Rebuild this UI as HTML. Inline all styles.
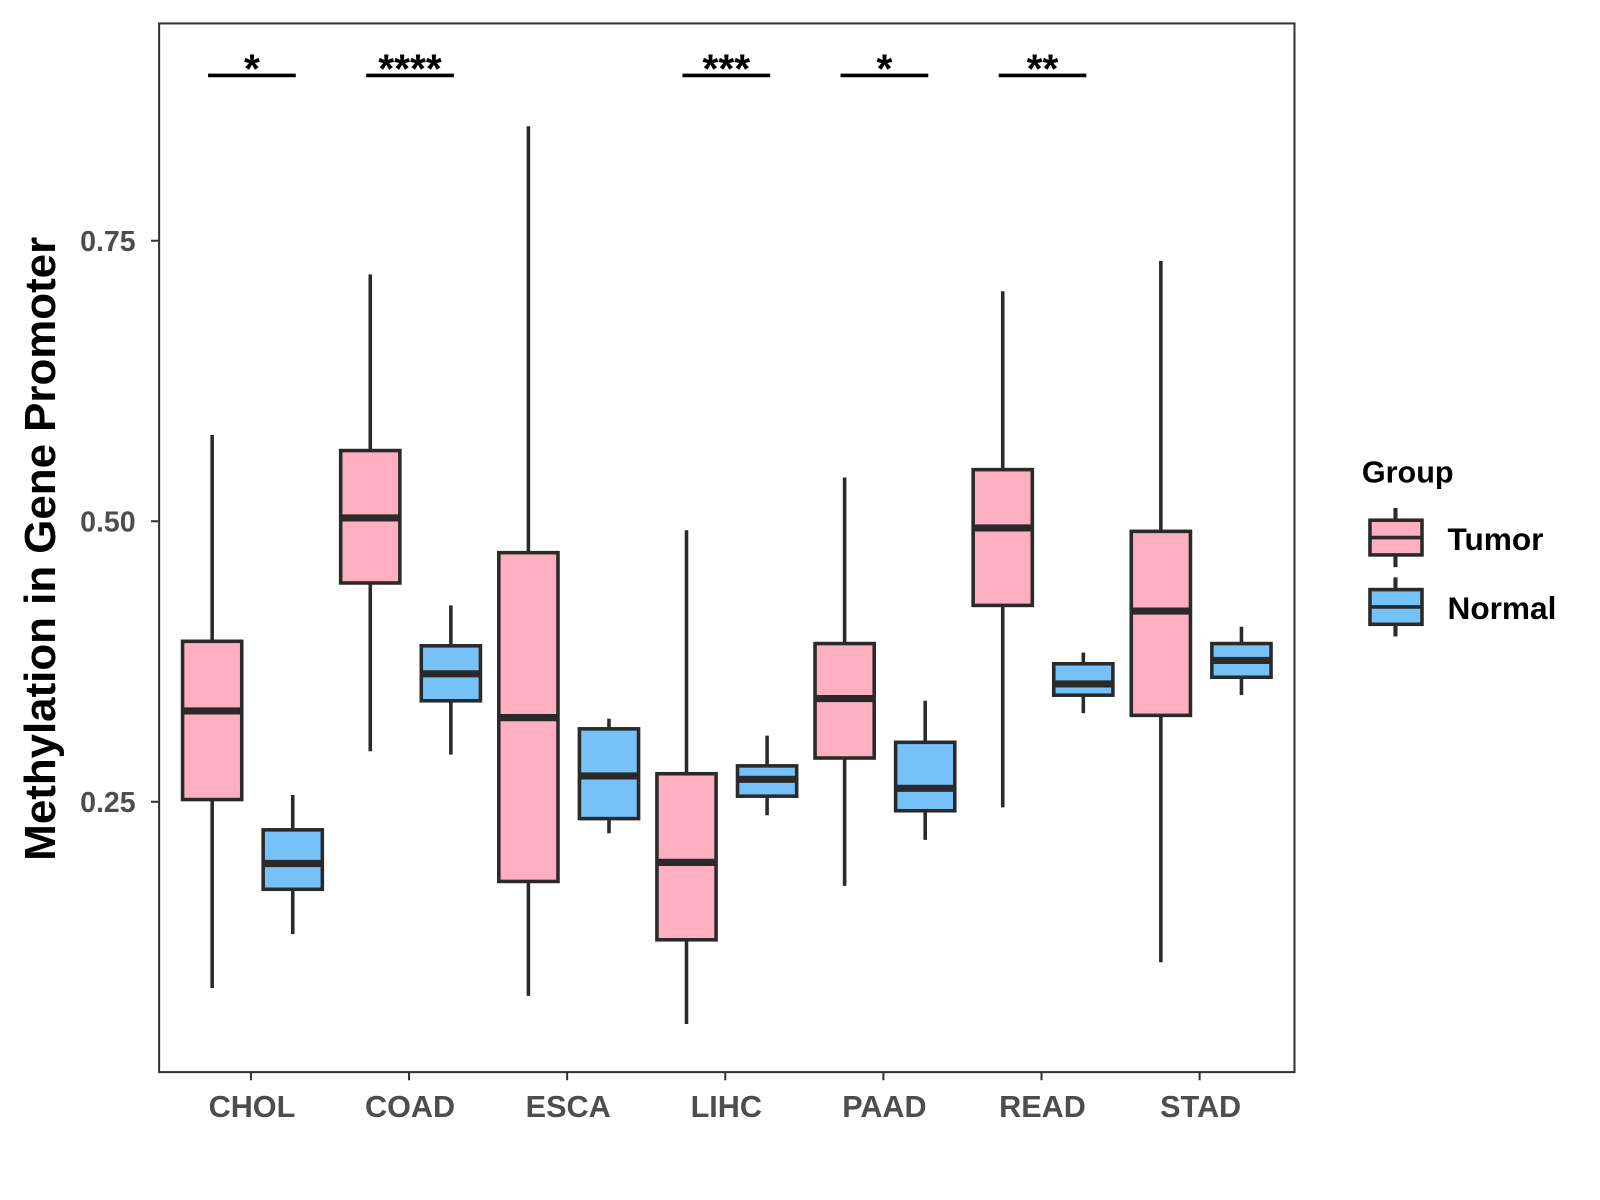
<!DOCTYPE html>
<html><head><meta charset="utf-8"><style>
html,body{margin:0;padding:0;background:#fff;}
svg{display:block;font-family:"Liberation Sans",sans-serif;}
</style></head><body>
<svg id="chart" width="1600" height="1200" viewBox="0 0 1600 1200">
<rect x="0" y="0" width="1600" height="1200" fill="#fff"/>
<g transform="translate(1,1) scale(1.0201)">
<rect x="155" y="22" width="1113" height="1028" fill="none" stroke="#333" stroke-width="2"/>
<g id="yaxis"></g>
<g id="xaxis"></g>
<g id="boxes"></g>
<g id="sig"></g>
<text x="53" y="537" transform="rotate(-90 53 537)" text-anchor="middle" font-size="43" font-weight="bold" fill="#000">Methylation in Gene Promoter</text>
<g>
<text x="1334" y="472" font-size="30" font-weight="bold">Group</text>
<g>
<line x1="1367" y1="497" x2="1367" y2="555" stroke="#2a2a2a" stroke-width="4"/>
<rect x="1342" y="509" width="51" height="34" fill="#FEAFC1" stroke="#2a2a2a" stroke-width="3.5"/>
<line x1="1342" y1="526" x2="1393" y2="526" stroke="#2a2a2a" stroke-width="3.5"/>
<text x="1418" y="538" font-size="31" font-weight="bold">Tumor</text></g>
<g>
<line x1="1367" y1="565" x2="1367" y2="623" stroke="#2a2a2a" stroke-width="4"/>
<rect x="1342" y="577" width="51" height="34" fill="#76C1F7" stroke="#2a2a2a" stroke-width="3.5"/>
<line x1="1342" y1="594" x2="1393" y2="594" stroke="#2a2a2a" stroke-width="3.5"/>
<text x="1418" y="606" font-size="31" font-weight="bold">Normal</text></g>
</g>
</g>
</svg>
<script>
const categories=["CHOL","COAD","ESCA","LIHC","PAAD","READ","STAD"];
// [low, q1, median, q3, high]
const tumorStats=[[0.084,0.252,0.331,0.393,0.577],[0.295,0.445,0.503,0.563,0.720],[0.077,0.179,0.325,0.472,0.852],[0.052,0.127,0.196,0.275,0.492],[0.175,0.289,0.342,0.391,0.539],[0.245,0.425,0.494,0.546,0.705],[0.107,0.327,0.420,0.491,0.732]];
const normalStats=[[0.132,0.172,0.195,0.225,0.256],[0.292,0.340,0.364,0.389,0.425],[0.222,0.235,0.273,0.315,0.324],[0.238,0.255,0.270,0.282,0.309],[0.216,0.242,0.262,0.303,0.340],[0.329,0.345,0.355,0.373,0.383],[0.345,0.361,0.376,0.391,0.406]];
const sigLabels=["*","****","","***","*","**",""];
const yTicks=[0.25,0.50,0.75];
const yTickLabels=["0.25","0.50","0.75"];

const NS="http://www.w3.org/2000/svg";
function y(v){return 510-(v-0.5)*1100;}
function x(i){return 245+i*155;}
function mk(tag,attrs,parent){const e=document.createElementNS(NS,tag);for(const k in attrs)e.setAttribute(k,attrs[k]);parent.appendChild(e);return e;}
const yg=document.getElementById('yaxis'),xg=document.getElementById('xaxis'),bg=document.getElementById('boxes'),sg=document.getElementById('sig');
yTicks.forEach((t,i)=>{
  const l=mk('line',{x1:147,x2:155,y1:y(t),y2:y(t),stroke:'#333','stroke-width':2},yg);
  
  
  const tx=mk('text',{x:132,y:y(t)+10,'text-anchor':'end','font-size':28,'font-weight':'bold',fill:'#4d4d4d'},yg);
  tx.textContent=yTickLabels[i];
  
  
});
categories.forEach((c,i)=>{
  const l=mk('line',{x1:x(i),x2:x(i),y1:1050,y2:1058,stroke:'#333','stroke-width':2},xg);
  
  
  const tx=mk('text',{x:x(i)+1,y:1094,'text-anchor':'middle','font-size':30,'font-weight':'bold',fill:'#4d4d4d'},xg);
  tx.textContent=c;
  
  
});
function box(cx,s,fill,name){
  const g=mk('g',{},bg);
  
  
  mk('line',{x1:cx,x2:cx,y1:y(s[4]),y2:y(s[0]),stroke:'#2a2a2a','stroke-width':3.5},g);
  mk('rect',{x:cx-29,y:y(s[3]),width:58,height:y(s[1])-y(s[3]),fill:fill,stroke:'#2a2a2a','stroke-width':3.5},g);
  mk('line',{x1:cx-29,x2:cx+29,y1:y(s[2]),y2:y(s[2]),stroke:'#2a2a2a','stroke-width':7},g);
}
categories.forEach((c,i)=>{
  box(x(i)-38,tumorStats[i],'#FEAFC1','box-'+c.toLowerCase()+'-tumor');
  box(x(i)+41,normalStats[i],'#76C1F7','box-'+c.toLowerCase()+'-normal');
  if(sigLabels[i]){
    const l=mk('line',{x1:x(i)-42,x2:x(i)+44,y1:73,y2:73,stroke:'#000','stroke-width':3.5},sg);
    
    
    const t=mk('text',{x:x(i)+1,y:80,'text-anchor':'middle','font-size':40,'font-weight':'bold',fill:'#000'},sg);
    t.textContent=sigLabels[i];
    
    
  }
});
</script>
</body></html>
